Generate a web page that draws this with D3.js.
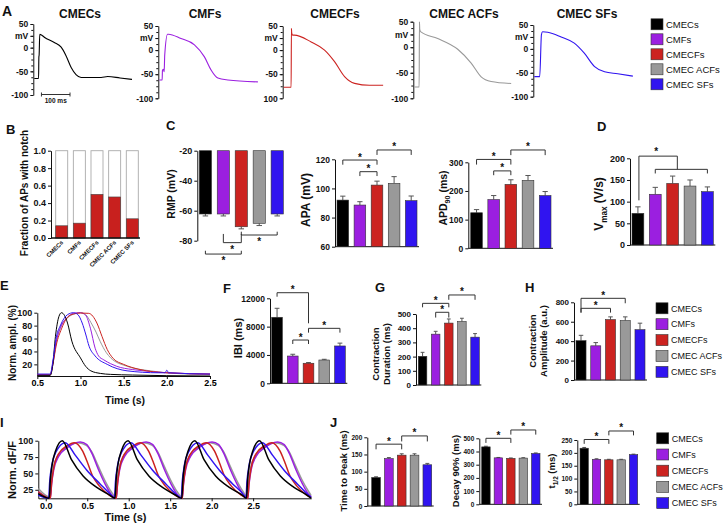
<!DOCTYPE html>
<html><head><meta charset="utf-8">
<script src="https://cdn.jsdelivr.net/npm/d3@7"></script>
<style>
body{margin:0;background:#fff}
svg{font-family:"Liberation Sans",Arial,Helvetica,sans-serif}
</style></head><body>
<svg id="fig" width="726" height="529"></svg>
<script>
const groups = ["CMECs", "CMFs", "CMECFs", "CMEC ACFs", "CMEC SFs"]
const groupColors = ["#000000", "#9b1fe0", "#cc2320", "#999999", "#3014f0"]

// A: action potentials, [ms, mV]
const apCMECs = [[0,-65],[15,-65],[16,-20],[17,-15],[19,28],[25,27],[35,22],[70,11],[94,1],[111,-17],[129,-42],[146,-57],[164,-63],[234,-63],[257,-61],[300,-64],[342,-67]]
const apCMFs = [[0,-62],[10,-62],[11,-42],[15,-40],[17,-45],[19,-10],[29,33],[32,33],[76,24],[123,11],[158,-14],[181,-41],[205,-58],[240,-62],[345,-66]]
const apCMECFs = [[0,-77],[26,-77],[27,45],[28,36],[31,31],[37,31],[96,17],[143,0],[178,-24],[213,-55],[248,-69],[300,-73],[348,-73]]
const apACFs = [[0,-78],[17,-78],[18,50],[19,35],[23,30],[82,17],[152,-4],[199,-31],[234,-58],[269,-67],[339,-71]]
const apSFs = [[0,-58],[19,-58],[25,30],[29,36],[47,35],[94,25],[140,12],[175,-9],[211,-37],[246,-48],[292,-52],[345,-57]]
const apTicks = [50, 25, 0, -50, -100]

// B
const notchFraction = [0.14, 0.17, 0.50, 0.47, 0.22]
// C, D
const rmpMean = [-62.2, -62.2, -70.7, -68.4, -62.2], rmpErr = [1.3, 1.3, 1.4, 1.5, 1.3]
const apaMean = [92, 88.6, 102.3, 103.5, 91.6], apaErr = [2.7, 2.3, 2.7, 4.6, 3.2]
const apd90Mean = [124, 170, 223, 237, 184], apd90Err = [11, 14, 16, 17, 14]
const vmaxMean = [73, 117, 142, 136, 123], vmaxErr = [15, 16, 17, 14, 11]
// E: contraction traces, [s, %]
const eCMECs = [[0.5,3],[0.65,3],[0.68,20],[0.71,63],[0.75,94],[0.78,100],[0.85,84],[0.9,56],[1.0,30],[1.06,17],[1.12,10],[1.23,6],[1.35,4.5],[1.6,3.5],[2.0,2.5],[2.5,2]]
const eCMFs = [[0.5,4],[0.65,4],[0.68,20],[0.72,55],[0.78,80],[0.85,93],[0.92,99],[1.0,100],[1.06,96],[1.115,76],[1.17,45],[1.21,33],[1.27,27],[1.35,21],[1.42,17],[1.6,12],[1.73,10],[2.0,7],[2.5,5]]
const eCMECFs = [[0.5,4],[0.65,4],[0.68,20],[0.72,50],[0.78,75],[0.85,93],[0.92,98],[1.0,99.5],[1.096,99],[1.19,84],[1.25,63],[1.31,43],[1.38,29],[1.5,20],[1.69,12],[2.0,7],[2.5,5]]
const eACFs = [[0.5,4],[0.65,4],[0.68,22],[0.72,55],[0.77,78],[0.85,92],[0.95,99],[1.0,100],[1.06,97],[1.12,85],[1.18,70],[1.23,55],[1.3,38],[1.35,30],[1.54,17],[1.81,10],[2.0,7],[2.5,4]]
const eSFs = [[0.5,5],[0.65,5],[0.68,25],[0.72,62],[0.77,81],[0.85,97],[0.92,100],[0.97,97],[1.02,84],[1.06,67],[1.1,48],[1.17,33],[1.31,20],[1.54,10],[1.9,7],[1.98,7],[2.0,11],[2.02,7],[2.5,5]]
// F, G, H
const ibiMean = [9320, 3850, 2830, 3290, 5270], ibiErr = [1270, 250, 100, 100, 400]
const durMean = [202, 358, 436, 447, 337], durErr = [28, 20, 29, 23, 25]
const ampMean = [405, 352, 622, 612, 518], ampErr = [55, 33, 28, 38, 67]
// I: calcium transients, [s, %]
const iCMECs = [[-0.09,19],[0.042,12],[0.055,40],[0.075,62],[0.12,85],[0.2,100],[0.31,71],[0.45,46],[0.61,29],[0.77,17],
  [0.835,12],[0.848,40],[0.868,62],[0.913,85],[0.993,100],[1.103,71],[1.243,46],[1.403,29],[1.563,17],
  [1.64,12],[1.653,40],[1.673,62],[1.718,85],[1.798,100],[1.908,71],[2.048,46],[2.208,29],[2.368,17],
  [2.42,12],[2.433,40],[2.453,62],[2.498,85],[2.578,100],[2.688,71],[2.828,46],[2.988,29],[3.148,17],[3.2,12]]
const iCMFs = [[-0.09,22],[0.055,12],[0.07,33],[0.095,55],[0.155,76],[0.255,89],[0.415,98],[0.495,94],[0.555,81],[0.635,56],[0.715,34],[0.795,17],
  [0.85,12],[0.865,33],[0.89,55],[0.95,76],[1.05,89],[1.21,98],[1.29,94],[1.35,81],[1.43,56],[1.51,34],[1.59,17],
  [1.645,12],[1.66,33],[1.685,55],[1.745,76],[1.845,89],[2.005,98],[2.085,94],[2.145,81],[2.225,56],[2.305,34],[2.385,17],
  [2.435,12],[2.45,33],[2.475,55],[2.535,76],[2.635,89],[2.795,98],[2.875,94],[2.935,81],[3.015,56],[3.095,34],[3.175,17],[3.2,14]]
const iCMECFs = [[-0.09,22],[0.055,12],[0.07,35],[0.095,58],[0.155,80],[0.255,92],[0.345,97],[0.445,84],[0.505,66],[0.565,46],[0.645,31],[0.765,17],
  [0.85,12],[0.865,35],[0.89,58],[0.95,80],[1.05,92],[1.14,97],[1.24,84],[1.3,66],[1.36,46],[1.44,31],[1.56,17],
  [1.645,12],[1.66,35],[1.685,58],[1.745,80],[1.845,92],[1.935,97],[2.035,84],[2.095,66],[2.155,46],[2.235,31],[2.355,17],
  [2.435,12],[2.45,35],[2.475,58],[2.535,80],[2.635,92],[2.725,97],[2.825,84],[2.885,66],[2.945,46],[3.025,31],[3.145,17],[3.2,13]]
const iACFs = [[-0.09,27],[0.05,14],[0.065,38],[0.09,58],[0.15,78],[0.25,90],[0.39,97],[0.49,93],[0.55,84],[0.63,62],[0.71,40],[0.79,22],
  [0.845,14],[0.86,38],[0.885,58],[0.945,78],[1.045,90],[1.185,97],[1.285,93],[1.345,84],[1.425,62],[1.505,40],[1.585,22],
  [1.64,14],[1.655,38],[1.68,58],[1.74,78],[1.84,90],[1.98,97],[2.08,93],[2.14,84],[2.22,62],[2.3,40],[2.38,22],
  [2.43,14],[2.445,38],[2.47,58],[2.53,78],[2.63,90],[2.77,97],[2.87,93],[2.93,84],[3.01,62],[3.09,40],[3.17,22],[3.2,16]]
const iSFs = [[-0.09,17],[0.035,12],[0.048,38],[0.07,60],[0.12,82],[0.235,97],[0.355,78],[0.495,55],[0.655,34],[0.795,16],
  [0.828,12],[0.841,38],[0.863,60],[0.913,82],[1.028,97],[1.148,78],[1.288,55],[1.448,34],[1.588,16],
  [1.633,12],[1.646,38],[1.668,60],[1.718,82],[1.833,97],[1.953,78],[2.093,55],[2.253,34],[2.393,16],
  [2.413,12],[2.426,38],[2.448,60],[2.498,82],[2.613,97],[2.733,78],[2.873,55],[3.033,34],[3.173,16],[3.2,13]]
// J
const ttpMean = [83, 138, 148, 148, 120], ttpErr = [2, 3, 4, 4, 4]
const decayMean = [435, 352, 348, 350, 385], decayErr = [5, 3, 3, 3, 4]
const thalfMean = [218, 175, 173, 173, 193], thalfErr = [3, 2, 2, 2, 2]

// significance brackets: [bar i, bar j, level, leg end at i, leg end at j]
const apaSig = [[0, 2, 119.5, 116.3, 116.3], [1, 2, 111.5, 108.5, 108.5], [2, 4, 126.4, 123, 123]]
const apd90Sig = [[0, 2, 310, 292, 292], [1, 2, 270, 255, 255], [2, 4, 343, 325, 325]]
const rmpSig = [[1, 2, -81.3, -75.5, -75.5], [2, 4, -76.2, -74, -74], [0, 2, -88.9, -86.7, -86.7]]
const ibiSig = [[0, 2, 12790, 12225, 8470], [1, 2, 6110, 5550, 5550], [2, 4, 7760, 7150, 7150]]
const durSig = [[0, 2, 575, 547, 547], [1, 2, 512, 475, 475], [2, 4, 634, 600, 600]]
const ampSig = [[0, 2, 738, 694, 694], [0, 3, 841, 694, 790]]
const ttpSig = [[0, 2, 180, 165, 165], [2, 4, 204, 188, 188]]
const decaySig = [[0, 2, 500, 465, 465], [2, 4, 563, 528, 528]]
const thalfSig = [[0, 2, 252, 235, 235], [2, 4, 285, 268, 268]]

const svg = d3.select("#fig")
const FONT = '"Liberation Sans", Arial, Helvetica, sans-serif'
const plain = d => String(d)

function label(x, y, txt, fs, opts) {
    opts = opts || {}
    return svg.append("text").attr("x", x).attr("y", y).text(txt)
        .attr("font-size", fs).attr("font-weight", opts.normal ? "normal" : "bold")
        .attr("text-anchor", opts.anchor || "start").attr("fill", "#111")
}

// rotated axis title; parts are strings or {sub: "..."}
function vTitle(cx, cy, lines, fs) {
    lines.forEach((parts, li) => {
        const bx = cx + fs * 0.35 + (li - (lines.length - 1) / 2) * fs * 1.15
        const t = svg.append("text").attr("transform", `translate(${bx},${cy}) rotate(-90)`)
            .attr("text-anchor", "middle").attr("font-size", fs).attr("font-weight", "bold").attr("fill", "#111")
        let shift = 0
        parts.forEach(p => {
            if (typeof p === "string") {
                t.append("tspan").attr("dy", -shift).text(p); shift = 0
            } else {
                t.append("tspan").attr("dy", fs * 0.3).attr("font-size", fs * 0.68).text(p.sub); shift = fs * 0.3
            }
        })
    })
}

function yAxis(ax, y, ticks, fs, fmt, size) {
    const a = svg.append("g").attr("transform", `translate(${ax},0)`)
        .call(d3.axisLeft(y).tickValues(ticks).tickSize(size || 3).tickSizeOuter(0).tickPadding(2)
            .tickFormat(fmt || plain))
    a.attr("font-family", FONT).attr("font-size", fs).attr("font-weight", "bold")
    a.select(".domain").attr("stroke", "#111")
    a.selectAll(".tick line").attr("stroke", "#111")
    a.selectAll(".tick text").attr("fill", "#111")
    return a
}

function band(r, pad) {
    return d3.scaleBand().domain(groups).range(r).paddingInner(pad == null ? 0.32 : pad).paddingOuter(0)
}
const cx = (x, i) => x(groups[i]) + x.bandwidth() / 2

function bars(x, y, means, errs, base) {
    const g = svg.append("g")
    const cw = Math.max(3, x.bandwidth() * 0.45)
    g.selectAll("path").data(means).join("path")
        .attr("d", (d, i) => {
            const e = d < base ? d - errs[i] : d + errs[i], c = cx(x, i)
            return `M${c},${y(d)}V${y(e)}M${c - cw / 2},${y(e)}H${c + cw / 2}`
        })
        .attr("stroke", "#555").attr("stroke-width", 1).attr("fill", "none")
    g.selectAll("rect").data(means).join("rect")
        .attr("x", (d, i) => x(groups[i])).attr("width", x.bandwidth())
        .attr("y", d => Math.min(y(d), y(base))).attr("height", d => Math.abs(y(d) - y(base)))
        .attr("fill", (d, i) => groupColors[i]).attr("stroke", "#333").attr("stroke-width", 0.6)
}

function brackets(x, y, list) {
    list.forEach(([i, j, lvl, la, lb]) => {
        const xi = cx(x, i), xj = cx(x, j)
        svg.append("path").attr("d", `M${xi},${y(la)}V${y(lvl)}H${xj}V${y(lb)}`)
            .attr("fill", "none").attr("stroke", "#333").attr("stroke-width", 1)
        const below = y(la) < y(lvl)
        label((xi + xj) / 2, below ? y(lvl) + 10 : y(lvl) + 0.5, "*", 10, { anchor: "middle" })
    })
}

function baseLine(x0, x1, yy) {
    svg.append("path").attr("d", `M${x0},${yy}H${x1}`).attr("stroke", "#111").attr("stroke-width", 1)
}

function legend(x, y0, step, fs) {
    groups.forEach((g, i) => {
        const yy = y0 + i * step
        svg.append("rect").attr("x", x).attr("y", yy - 5.5).attr("width", 12).attr("height", 11)
            .attr("fill", groupColors[i]).attr("stroke", "#333").attr("stroke-width", 0.6)
        label(x + 15, yy + fs * 0.36, g, fs, { normal: true })
    })
}

function barPanel(p) {
    const y = d3.scaleLinear().domain(p.domain).range(p.range)
    const x = band(p.bands, p.pad)
    yAxis(p.axisX, y, p.ticks, p.fs, p.fmt, p.tick)
    if (p.base !== false) baseLine(p.axisX, p.bands[1] + 2, y(p.domain[0]))
    bars(x, y, p.means, p.errs, p.baseVal == null ? p.domain[0] : p.baseVal)
    if (p.sig) brackets(x, y, p.sig)
    return { x, y }
}

// ---------- A ----------
label(2, 16, "A", 14)
const apLayout = [
    { ax: 33.3, top: 24, bot: 95, tx: 80, title: "CMECs", data: apCMECs },
    { ax: 158.3, top: 26, bot: 98.3, tx: 205, title: "CMFs", data: apCMFs },
    { ax: 282.7, top: 26, bot: 98.3, tx: 335, title: "CMECFs", data: apCMECFs, clipMinus: true },
    { ax: 413.3, top: 21.7, bot: 98.3, tx: 464, title: "CMEC ACFs", data: apACFs },
    { ax: 533.3, top: 25, bot: 96.7, tx: 587, title: "CMEC SFs", data: apSFs }]
apLayout.forEach((p, k) => {
    const y = d3.scaleLinear().domain([-100, 50]).range([p.bot, p.top])
    const x = d3.scaleLinear().domain([0, 350]).range([p.ax + 1, p.ax + 101])
    const minor = svg.append("g").attr("transform", `translate(${p.ax},0)`)
        .call(d3.axisLeft(y).tickValues(d3.range(-100, 50.1, 12.5)).tickSize(2).tickFormat(""))
    minor.select(".domain").remove()
    minor.selectAll("line").attr("stroke", "#111")
    yAxis(p.ax, y, apTicks, 8.5, d => d === 25 ? "mV" : (p.clipMinus && d === -100 ? "100" : String(d)))
    label(p.tx, 18, p.title, 12, { anchor: "middle" })
    svg.append("path").datum(p.data)
        .attr("d", d3.line().x(d => x(d[0])).y(d => y(d[1])).curve(d3.curveMonotoneX))
        .attr("fill", "none").attr("stroke", groupColors[k]).attr("stroke-width", 1.1)
    if (k === 0) {
        const x0 = x(25), x1 = x(125), yb = 94.5
        svg.append("path").attr("d", `M${x0},${yb - 2}V${yb + 2}M${x0},${yb}H${x1}M${x1},${yb - 2}V${yb + 2}`)
            .attr("stroke", "#333").attr("fill", "none")
        label((x0 + x1) / 2, 102.5, "100 ms", 6.5, { anchor: "middle" })
    }
})
legend(651, 24.3, 15, 9.5)

// ---------- B ----------
label(6, 134, "B", 13)
{
    const y = d3.scaleLinear().domain([0, 1]).range([238, 150.7])
    const x = band([55.7, 138.3])
    yAxis(51, y, d3.range(0, 1.01, 0.2), 9, d3.format(".1f"))
    svg.append("g").selectAll("rect").data(notchFraction).join("rect")
        .attr("x", (d, i) => x(groups[i])).attr("width", x.bandwidth())
        .attr("y", y(1)).attr("height", y(0) - y(1))
        .attr("fill", "#fff").attr("stroke", "#aaa").attr("stroke-width", 0.9)
    svg.append("g").selectAll("rect").data(notchFraction).join("rect")
        .attr("x", (d, i) => x(groups[i])).attr("width", x.bandwidth())
        .attr("y", d => y(d)).attr("height", d => y(0) - y(d))
        .attr("fill", "#c8201e").attr("stroke", "#444").attr("stroke-width", 0.6)
    svg.append("path").attr("d", `M51,238H140`).attr("stroke", "#111").attr("stroke-width", 1.3)
    groups.forEach((g, i) => {
        svg.append("text").attr("transform", `translate(${cx(x, i) + 2},${243}) rotate(-45)`)
            .attr("text-anchor", "end").attr("font-size", 6).attr("font-weight", "bold").attr("fill", "#111").text(g)
    })
    vTitle(24, 193, [["Fraction of APs with notch"]], 10)
}

// ---------- C ----------
label(166, 130, "C", 13)
barPanel({ domain: [-20, -80], range: [150.7, 240.7], bands: [199.3, 283.3], axisX: 197.3,
    ticks: [-20, -40, -60, -80], fs: 9, means: rmpMean, errs: rmpErr, base: false, baseVal: -20, sig: rmpSig })
vTitle(171, 194, [["RMP (mV)"]], 10.5)
barPanel({ domain: [60, 120], range: [246.7, 159.3], bands: [337, 417], axisX: 335,
    ticks: [60, 80, 100, 120], fs: 8.5, means: apaMean, errs: apaErr, sig: apaSig })
vTitle(306, 200, [["APA (mV)"]], 12)
barPanel({ domain: [0, 300], range: [248.3, 162.3], bands: [470.7, 551], axisX: 468.3,
    ticks: [0, 100, 200, 300], fs: 8.5, means: apd90Mean, errs: apd90Err, sig: apd90Sig })
vTitle(443, 198, [["APD", { sub: "90" }, " (ms)"]], 10.5)

// ---------- D ----------
label(597, 131, "D", 13)
{
    const p = barPanel({ domain: [0, 200], range: [245, 158.3], bands: [632, 713.3], axisX: 630,
        ticks: [0, 50, 100, 150, 200], fs: 9, means: vmaxMean, errs: vmaxErr })
    const { x, y } = p
    const x0 = cx(x, 0) + 1, xa = cx(x, 1), xb = cx(x, 4), xm = (xa + xb) / 2 - 4
    svg.append("path").attr("d", `M${x0},${y(103)}V${y(205)}H${xm}V${y(174.5)}M${xa},${y(165)}V${y(174.5)}H${xb}V${y(165)}`)
        .attr("fill", "none").attr("stroke", "#333")
    label((x0 + xm) / 2 - 2, y(205) - 1.5, "*", 10, { anchor: "middle" })
    vTitle(599, 204, [["V", { sub: "max" }, " (V/s)"]], 12)
}

// ---------- E ----------
label(0, 290, "E", 13)
{
    const x = d3.scaleLinear().domain([0.5, 2.5]).range([37.3, 210])
    const y = d3.scaleLinear().domain([2, 100]).range([376, 312.7])
    yAxis(37.3, y, [20, 40, 60, 80, 100], 9)
    const xa = svg.append("g").attr("transform", "translate(0,376)")
        .call(d3.axisBottom(x).tickValues([0.5, 1, 1.5, 2, 2.5]).tickSize(3).tickSizeOuter(0).tickPadding(1).tickFormat(d3.format(".1f")))
    xa.attr("font-family", FONT).attr("font-size", 9).attr("font-weight", "bold")
    xa.selectAll("line,.domain").attr("stroke", "#111")
    const line = d3.line().x(d => x(d[0])).y(d => y(d[1])).curve(d3.curveMonotoneX)
    const order = [[eACFs, 3], [eCMFs, 1], [eCMECFs, 2], [eCMECs, 0], [eSFs, 4]]
    order.forEach(([d, k]) => svg.append("path").datum(d).attr("d", line)
        .attr("fill", "none").attr("stroke", groupColors[k]).attr("stroke-width", 1))
    vTitle(12.5, 343, [["Norm. ampl. (%)"]], 10)
    label(125, 404, "Time (s)", 10.5, { anchor: "middle" })
}

// ---------- F ----------
label(223, 293, "F", 13)
barPanel({ domain: [0, 12000], range: [383.3, 298.3], bands: [271.7, 345.3], axisX: 270,
    ticks: [0, 4000, 8000, 12000], fs: 8.5, means: ibiMean, errs: ibiErr, sig: ibiSig })
vTitle(238, 338, [["IBI (ms)"]], 11)

// ---------- G ----------
label(375, 292, "G", 13)
barPanel({ domain: [0, 500], range: [385, 314], bands: [418.3, 479.3], axisX: 416, pad: 0.35,
    ticks: [0, 100, 200, 300, 400, 500], fs: 8, means: durMean, errs: durErr, sig: durSig })
vTitle(381, 354, [["Contraction"], ["Duration (ms)"]], 9.5)

// ---------- H ----------
label(525, 292, "H", 13)
barPanel({ domain: [0, 800], range: [380, 302.3], bands: [576, 645], axisX: 574,
    ticks: [0, 200, 400, 600, 800], fs: 8, means: ampMean, errs: ampErr, sig: ampSig })
vTitle(538, 341, [["Contraction"], ["Amplitude (a.u.)"]], 9.5)
legend(656, 308.3, 15.9, 9)

// ---------- I ----------
label(0, 427, "I", 13)
{
    const x = d3.scaleLinear().domain([-0.09, 3.2]).range([38.3, 311.2])
    const y = d3.scaleLinear().domain([12, 100]).range([498.3, 440.7])
    yAxis(38.3, y, [25, 50, 75, 100], 9)
    const xa = svg.append("g").attr("transform", "translate(0,498.3)")
        .call(d3.axisBottom(x).tickValues([0, 0.5, 1, 1.5, 2, 2.5]).tickSize(3).tickSizeOuter(0).tickPadding(1).tickFormat(d3.format(".1f")))
    xa.attr("font-family", FONT).attr("font-size", 9).attr("font-weight", "bold")
    xa.selectAll("line,.domain").attr("stroke", "#111")
    const line = d3.line().x(d => x(d[0])).y(d => y(d[1])).curve(d3.curveMonotoneX)
    const order = [[iACFs, 3], [iCMFs, 1], [iCMECFs, 2], [iSFs, 4], [iCMECs, 0]]
    order.forEach(([d, k]) => svg.append("path").datum(d).attr("d", line)
        .attr("fill", "none").attr("stroke", groupColors[k]).attr("stroke-width", 1.5))
    vTitle(12, 470, [["Norm. dF/F"]], 11)
    label(125.5, 521, "Time (s)", 11, { anchor: "middle" })
}

// ---------- J ----------
label(330, 427, "J", 13)
barPanel({ domain: [0, 200], range: [506, 437.3], bands: [371.7, 431.7], axisX: 367.3,
    ticks: [0, 50, 100, 150, 200], fs: 6.5, means: ttpMean, errs: ttpErr, sig: ttpSig })
vTitle(344, 471, [["Time to Peak (ms)"]], 9.5)
barPanel({ domain: [0, 500], range: [504.3, 438.3], bands: [481.7, 540], axisX: 479.3,
    ticks: [0, 100, 200, 300, 400, 500], fs: 6.5, means: decayMean, errs: decayErr, sig: decaySig })
vTitle(456, 471, [["Decay 90% (ms)"]], 9.5)
barPanel({ domain: [0, 250], range: [504.3, 440], bands: [580, 637.7], axisX: 577.3,
    ticks: [0, 50, 100, 150, 200, 250], fs: 6.5, means: thalfMean, errs: thalfErr, sig: thalfSig })
vTitle(552, 471, [["t", { sub: "1/2" }, " (ms)"]], 9.5)
legend(656.7, 438.3, 16.2, 9)
</script>
</body></html>
